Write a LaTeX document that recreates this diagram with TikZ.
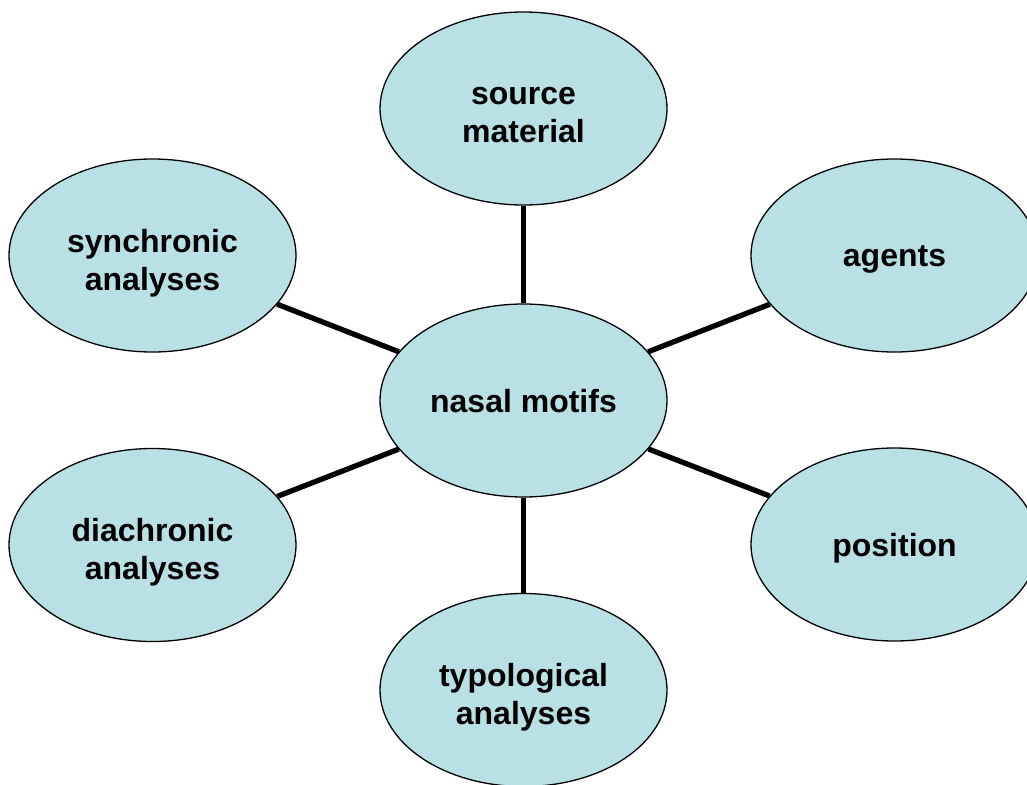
\documentclass[tikz,border=0pt]{standalone}
\usepackage{fontspec}
\setmainfont{Liberation Sans}
\usetikzlibrary{shapes.geometric}
\definecolor{bubblefill}{RGB}{185,224,228}
\tikzset{
  bubble/.style={ellipse, draw=black, line width=1.3pt, fill=bubblefill,
    minimum width=287pt, minimum height=193pt, inner sep=0pt},
  bubbletext/.style={align=center, inner sep=0pt,
    font=\bfseries\fontsize{32}{38}\selectfont},
  link/.style={line width=5.3pt}
}
\begin{document}
\begin{tikzpicture}[x=1pt,y=-1pt]
\useasboundingbox (0,0) rectangle (1027,784);
\node[bubble, label={[bubbletext, yshift=-1pt]center:nasal motifs}] (center) at (523.5,400.5) {};
\node[bubble, label={[bubbletext, yshift=-7pt]center:source\\material}] (source) at (523.5,108.5) {};
\node[bubble, label={[bubbletext, yshift=-8pt]center:synchronic\\analyses}] (sync) at (152.5,255.5) {};
\node[bubble, label={[bubbletext, yshift=-4pt]center:agents}] (agents) at (894.5,255.5) {};
\node[bubble, label={[bubbletext, yshift=-7pt]center:diachronic\\analyses}] (dia) at (152.5,545) {};
\node[bubble, label={[bubbletext, yshift=-4pt]center:position}] (pos) at (894.5,544.5) {};
\node[bubble, label={[bubbletext, yshift=-7pt]center:typological\\analyses}] (typo) at (523.5,690) {};
\draw[link] (center) -- (source);
\draw[link] (center) -- (sync);
\draw[link] (center) -- (agents);
\draw[link] (center) -- (dia);
\draw[link] (center) -- (pos);
\draw[link] (center) -- (typo);
\end{tikzpicture}
\end{document}
